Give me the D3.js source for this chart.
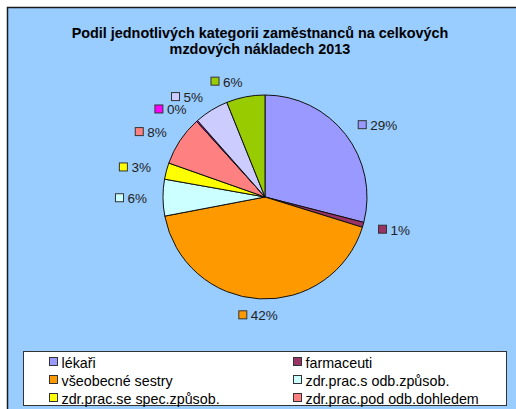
<!DOCTYPE html>
<html>
<head>
<meta charset="utf-8">
<script src="https://cdn.jsdelivr.net/npm/d3@7"></script>
<style>
  body { margin: 0; background: #fff; }
  svg { display: block; font-family: "Liberation Sans", Arial, sans-serif; }
</style>
</head>
<body>
<svg id="chart" width="516" height="409"></svg>
<script>
// data
const titleLines = ["Podil jednotlivých kategorii zaměstnanců na celkových", "mzdových nákladech 2013"];
const categories = ["lékaři", "farmaceuti", "všeobecné sestry", "zdr.prac.s odb.způsob.",
                    "zdr.prac.se spec.způsob.", "zdr.prac.pod odb.dohledem",
                    "jiní odb.prac.", "THP", "dělníci a provozní prac."];
const values = [29.0, 0.8, 42.2, 5.8, 2.6, 7.9, 0.2, 5.4, 6.1];
const colors = ["#9999FF", "#993366", "#FF9900", "#CCFFFF", "#FFFF00", "#FF8080",
                "#FF00FF", "#CCCCFF", "#99CC00"];
const legendShown = 6; // legend box only has room for first 6 entries

const svg = d3.select("#chart");
const W = 516, H = 409;
const cx = 265, cy = 197, R = 102;

// chart area
svg.append("rect")
    .attr("x", 7.5).attr("y", 7.5)
    .attr("width", W + 10).attr("height", H + 10)
    .style("fill", "#99CCFF")
    .style("stroke", "#1a1a1a")
    .style("stroke-width", 1.5);

// title
svg.append("g").selectAll("text")
    .data(titleLines)
    .join("text")
    .attr("x", 260)
    .attr("y", (d, i) => 38 + i * 16)
    .attr("text-anchor", "middle")
    .style("font-size", "14.4px")
    .style("font-weight", "bold")
    .style("fill", "#000")
    .text(d => d);

// pie
const pie = d3.pie().sort(null).value(d => d);
const arcs = pie(values);
const arc = d3.arc().innerRadius(0).outerRadius(R);
const pieG = svg.append("g").attr("transform", `translate(${cx},${cy})`);

pieG.selectAll("path.slice")
    .data(arcs)
    .join("path")
    .attr("class", "slice")
    .attr("d", arc)
    .style("fill", (d, i) => colors[i])
    .style("stroke", "#111")
    .style("stroke-width", 1)
    .style("stroke-linejoin", "round");

// data labels
const labelR = R + 16;
const sq = 8, gap = 4, fs = 13.5;
const labelG = pieG.selectAll("g.lbl")
    .data(arcs)
    .join("g")
    .attr("class", "lbl");

labelG.each(function(d, i) {
    const g = d3.select(this);
    const mid = (d.startAngle + d.endAngle) / 2;
    const px = Math.sin(mid) * labelR;
    const py = -Math.cos(mid) * labelR;
    const txt = Math.round(d.data) + "%";
    const t = g.append("text")
        .style("font-size", fs + "px")
        .style("fill", "#222")
        .attr("dominant-baseline", "central")
        .text(txt);
    const tw = t.node().getComputedTextLength();
    const bw = sq + gap + tw;
    let x0;
    const s = Math.sin(mid);
    if (s > 0.3) x0 = px;
    else if (s < -0.15) x0 = px - bw;
    else x0 = px - bw / 2;
    g.insert("rect", "text")
        .attr("x", x0).attr("y", py - sq / 2)
        .attr("width", sq).attr("height", sq)
        .style("fill", colors[i])
        .style("stroke", "#333")
        .style("stroke-width", 1);
    t.attr("x", x0 + sq + gap).attr("y", py + 1);
});

// legend
const legX = 23.5, legY = 351.5, legW = 483, legH = 54;
const legG = svg.append("g");
legG.append("rect")
    .attr("x", legX).attr("y", legY)
    .attr("width", legW).attr("height", legH)
    .style("fill", "#fff")
    .style("stroke", "#333")
    .style("stroke-width", 1);

const legItems = categories.slice(0, legendShown).map((c, i) => ({name: c, color: colors[i], i: i}));
const colX = d3.scaleOrdinal().domain([0, 1]).range([49, 293]);
const rowY = d3.scalePoint().domain([0, 1, 2]).range([361.5, 397.5]);

const li = legG.selectAll("g.item")
    .data(legItems)
    .join("g")
    .attr("class", "item")
    .attr("transform", d => `translate(${colX(d.i % 2)},${rowY(Math.floor(d.i / 2))})`);
li.append("rect")
    .attr("x", 0.5).attr("y", -4)
    .attr("width", 8).attr("height", 8)
    .style("fill", d => d.color)
    .style("stroke", "#333")
    .style("stroke-width", 1);
li.append("text")
    .attr("x", 12.5).attr("y", 1)
    .attr("dominant-baseline", "central")
    .style("font-size", "14.3px")
    .style("fill", "#000")
    .text(d => d.name);
</script>
</body>
</html>
